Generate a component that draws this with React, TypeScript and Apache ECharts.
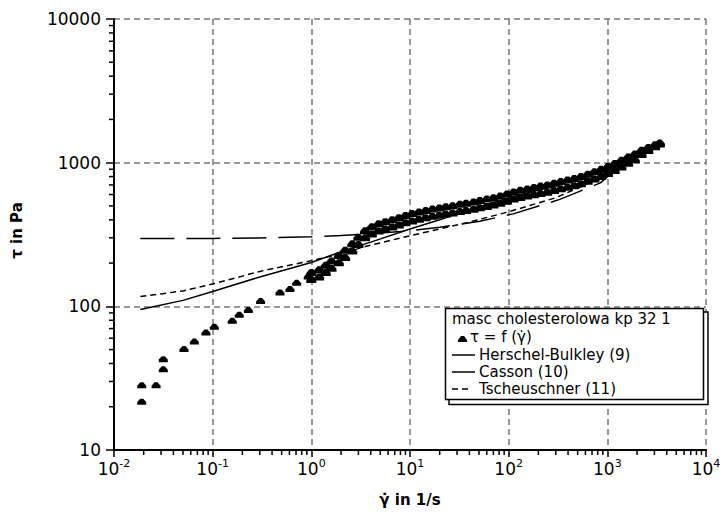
import React, { useEffect, useRef } from "react";
import * as echarts from "echarts";

// ---- axis ticks ----
const xDecades = [0.01, 0.1, 1, 10, 100, 1000];
const yDecades = [10, 100, 1000];
const minorMultipliers = [2, 3, 4, 5, 6, 7, 8, 9];

// ---- measured points, low shear region ----
const lowShearPoints: [number, number][] = [
  [0.0191, 21.7], [0.0191, 28.2], [0.0267, 28.2], [0.0316, 36.5], [0.0316, 42.9],
  [0.0512, 50.4], [0.0652, 56.9], [0.0855, 65.7], [0.104, 72.1], [0.158, 79.3],
  [0.186, 87.3], [0.23, 94.2], [0.306, 109], [0.481, 125], [0.607, 132],
  [0.71, 146], [0.93, 161],
];

// ---- measured points, dense band (two branches) ----
const bandShear = [1.0, 1.2, 1.4, 1.6, 1.9, 2.2, 2.6, 3.0, 3.5, 4.1, 4.8, 5.6, 6.6, 7.7, 9.0, 10.5, 12.3, 14.4, 16.9, 19.8, 23, 27, 32, 37, 44, 51, 60, 70, 82, 96, 112, 131, 154, 180, 210, 246, 288, 337, 395, 462, 540, 632, 740, 866, 1013, 1186, 1388, 1624, 1900, 2223, 2600, 3042, 3400];
const bandUpStress = [172, 180, 193, 207, 226, 246, 273, 302, 336, 358, 375, 388, 400, 413, 428, 442, 454, 464, 475, 484, 493, 502, 513, 522, 532, 546, 558, 570, 585, 604, 626, 642, 657, 673, 687, 700, 719, 739, 758, 777, 800, 832, 864, 900, 940, 985, 1040, 1095, 1150, 1220, 1275, 1330, 1370];
const bandDownStress = [154, 160, 172, 184, 201, 219, 243, 269, 300, 319, 334, 345, 357, 368, 381, 393, 404, 413, 423, 431, 439, 447, 457, 464, 474, 486, 496, 508, 521, 538, 558, 572, 585, 599, 611, 623, 640, 658, 675, 692, 712, 741, 769, 802, 840, 882, 934, 991, 1047, 1140, 1215, 1290, 1350];

// ---- model curves ----
const hbShear = [0.0185, 0.1, 0.3, 1, 2, 4, 10, 20, 51, 111, 330, 850, 1200, 1600, 2200, 3400];
const hbStress = [296, 297, 299, 305, 311, 320, 336, 355, 391, 440, 555, 723, 890, 1000, 1130, 1360];
const cassonShear = [0.0185, 0.05, 0.1, 0.3, 1, 2, 4, 10, 20, 40, 111, 300, 1000, 3400];
const cassonStress = [95, 110, 127, 160, 202, 240, 280, 345, 400, 470, 580, 690, 880, 1355];
const tschShear = [0.0185, 0.05, 0.1, 0.3, 1, 2, 3.6, 10, 37, 100, 300, 1000, 3400];
const tschStress = [117, 128, 143, 175, 208, 232, 262, 310, 381, 455, 570, 820, 1340];

const legendTitle = "masc cholesterolowa kp 32 1";
const seriesNames = ["τ = f (γ̇)", "Herschel-Bulkley (9)", "Casson (10)", "Tscheuschner (11)"];

const FONT = "DejaVu Sans";
const markerPath = "path://M0,4 L4,0 L8,0 L12,4 L12,7 L0,7 Z";

export default function App() {
  const ref = useRef<HTMLDivElement>(null);
  useEffect(() => {
    if (!ref.current) return;
    const chart = echarts.init(ref.current, null, { renderer: "svg" });

    const measured: [number, number][] = [
      ...lowShearPoints,
      ...bandShear.map((x, i) => [x, bandUpStress[i]] as [number, number]),
      ...bandShear.map((x, i) => [x, bandDownStress[i]] as [number, number]),
    ];
    const xMinor: number[][] = [];
    xDecades.forEach((d) => minorMultipliers.forEach((m) => xMinor.push([d * m, 10])));
    const yMinor: number[][] = [];
    yDecades.forEach((d) => minorMultipliers.forEach((m) => yMinor.push([0.01, d * m])));

    const lineSeries = (name: string, xs: number[], ys: number[], dash: any) => ({
      name,
      type: "line",
      data: xs.map((x, i) => [x, ys[i]]),
      showSymbol: false,
      symbol: "none",
      lineStyle: { color: "#000", width: 1.5, type: dash },
      z: 3,
      silent: true,
    });

    const lx = 452;
    const legendFont = `15px '${FONT}'`;
    const legendText = (x: number, y: number, text: string) => ({
      type: "text", z: 102, x, y,
      style: { text, font: legendFont, fill: "#000", verticalAlign: "middle", lineHeight: 15 },
    });
    const option: any = {
      animation: false,
      grid: { left: 114, right: 21, top: 19, bottom: 61 },
      xAxis: {
        type: "log",
        logBase: 10,
        min: 0.01,
        max: 10000,
        splitNumber: 6,
        name: "γ̇ in 1/s",
        nameLocation: "middle",
        nameGap: 42,
        nameTextStyle: { fontFamily: FONT, fontSize: 15, fontWeight: "bold", color: "#000" },
        axisLine: { lineStyle: { color: "#000", width: 2 } },
        axisTick: { length: 7, lineStyle: { color: "#000", width: 1.5 } },
        axisLabel: {
          margin: 8,
          formatter: (v: number) => `{b|10}{s|${Math.round(Math.log10(v))}}`,
          rich: {
            b: { fontFamily: FONT, fontSize: 17, color: "#000", lineHeight: 22 },
            s: { fontFamily: FONT, fontSize: 11, color: "#000", verticalAlign: "top", lineHeight: 22 },
          },
        },
        splitLine: { show: true, lineStyle: { color: "#777", width: 1.5, type: [6, 4] } },
      },
      yAxis: {
        type: "log",
        logBase: 10,
        min: 10,
        max: 10000,
        splitNumber: 3,
        name: "τ in Pa",
        nameLocation: "middle",
        nameGap: 90,
        nameRotate: 90,
        nameTextStyle: { fontFamily: FONT, fontSize: 15, fontWeight: "bold", color: "#000", padding: [0, 0, 0, 8] },
        axisLine: { lineStyle: { color: "#000", width: 2 } },
        axisTick: { length: 8, lineStyle: { color: "#000", width: 1.5 } },
        axisLabel: {
          margin: 13,
          fontFamily: FONT,
          fontSize: 17,
          color: "#000",
          formatter: (v: number) => String(Math.round(v)),
        },
        splitLine: { show: true, lineStyle: { color: "#777", width: 1.5, type: [6, 4] } },
      },
      series: [
        lineSeries(seriesNames[1], hbShear, hbStress, [34, 12]),
        lineSeries(seriesNames[2], cassonShear, cassonStress, "solid"),
        lineSeries(seriesNames[3], tschShear, tschStress, [6, 4]),
        {
          name: seriesNames[0],
          type: "scatter",
          data: measured,
          symbol: markerPath,
          symbolSize: (v: number[]) => (v[0] < 1 ? [9, 6] : [10, 7]),
          itemStyle: { color: "#000", opacity: 1 },
          z: 5,
          silent: true,
        },
        {
          type: "custom",
          clip: false,
          silent: true,
          data: xMinor,
          renderItem: (_p: any, api: any) => {
            const c = api.coord([api.value(0), api.value(1)]);
            return {
              type: "line",
              shape: { x1: c[0], y1: c[1], x2: c[0], y2: c[1] + 5 },
              style: { stroke: "#000", lineWidth: 1.5 },
            };
          },
        },
        {
          type: "custom",
          clip: false,
          silent: true,
          data: yMinor,
          renderItem: (_p: any, api: any) => {
            const c = api.coord([api.value(0), api.value(1)]);
            return {
              type: "line",
              shape: { x1: c[0] - 5, y1: c[1], x2: c[0], y2: c[1] },
              style: { stroke: "#000", lineWidth: 1.5 },
            };
          },
        },
      ],
      graphic: [
        { type: "rect", z: 100, shape: { x: 449, y: 312, width: 259, height: 92.5 }, style: { fill: "#fff", stroke: "#000", lineWidth: 1.5 } },
        { type: "rect", z: 101, shape: { x: 445.5, y: 308.5, width: 258, height: 91 }, style: { fill: "#fff", stroke: "#000", lineWidth: 1.5 } },
        legendText(lx, 319, legendTitle),
        { type: "polygon", z: 102, shape: { points: [[458, 340], [461, 336], [464, 336], [467, 340], [467, 342], [458, 342]] }, style: { fill: "#000" } },
        legendText(470, 337, seriesNames[0]),
        { type: "line", z: 102, shape: { x1: lx, y1: 355, x2: 475, y2: 355 }, style: { stroke: "#000", lineWidth: 1.5 } },
        legendText(479, 355, seriesNames[1]),
        { type: "line", z: 102, shape: { x1: lx, y1: 372, x2: 475, y2: 372 }, style: { stroke: "#000", lineWidth: 1.5 } },
        legendText(479, 372, seriesNames[2]),
        { type: "line", z: 102, shape: { x1: lx, y1: 389, x2: 470, y2: 389 }, style: { stroke: "#000", lineWidth: 1.5, lineDash: [6, 4] } },
        legendText(479, 389, seriesNames[3]),
      ],
    };
    chart.setOption(option);
    return () => chart.dispose();
  }, []);
  return <div ref={ref} style={{ position: "fixed", left: 0, top: 0, width: 727, height: 512, background: "#fff" }} />;
}
